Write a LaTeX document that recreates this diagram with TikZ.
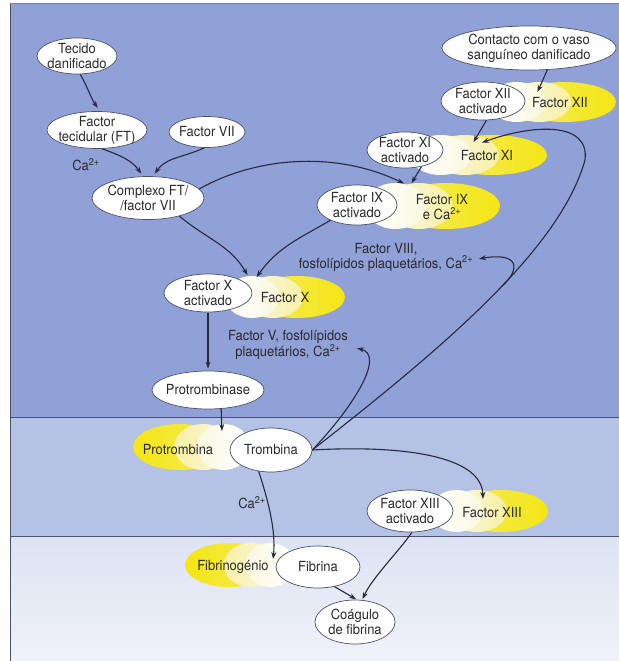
\documentclass[tikz,border=0pt]{standalone}
\usepackage{fontspec}
\setmainfont{TeX Gyre Heros}[FakeStretch=0.93]
\usetikzlibrary{arrows.meta,shapes.geometric}
\definecolor{bgtop}{HTML}{8FA1D7}
\definecolor{bgmid}{HTML}{B4C2E6}
\definecolor{bgbotA}{HTML}{DCE3F3}
\definecolor{bgbotB}{HTML}{F0F2F9}
\definecolor{ystrong}{HTML}{F4E614}
\definecolor{ymid}{HTML}{F5EB60}
\definecolor{ylight}{HTML}{F7F0A6}
\definecolor{ypale}{HTML}{FAF8E0}
\definecolor{linec}{HTML}{262A3C}
\definecolor{rulec}{HTML}{4A5068}
\definecolor{txtc}{HTML}{2A2A2A}

% yellow blob, strong colour on the right: xL, xR, cy, ry
\newcommand{\yblobR}[4]{%
  \pgfmathsetmacro{\bW}{#2-#1}%
  \pgfmathsetmacro{\rC}{0.4*\bW}\pgfmathsetmacro{\rB}{0.25*\bW}\pgfmathsetmacro{\rA}{0.225*\bW}%
  \shade[left color=ymid, right color=ystrong] ({#1+0.6*\bW},#3) ellipse [x radius=\rC bp, y radius=#4bp];
  \shade[left color=ypale, right color=ylight] ({#1+0.4*\bW},#3) ellipse [x radius=\rB bp, y radius=#4bp];
  \shade[left color=white, right color=ypale] ({#1+0.225*\bW},#3) ellipse [x radius=\rA bp, y radius=#4bp];
}
% yellow blob, strong colour on the left
\newcommand{\yblobL}[4]{%
  \pgfmathsetmacro{\bW}{#2-#1}%
  \pgfmathsetmacro{\rC}{0.4*\bW}\pgfmathsetmacro{\rB}{0.25*\bW}\pgfmathsetmacro{\rA}{0.225*\bW}%
  \shade[right color=ymid, left color=ystrong] ({#2-0.6*\bW},#3) ellipse [x radius=\rC bp, y radius=#4bp];
  \shade[right color=ypale, left color=ylight] ({#2-0.4*\bW},#3) ellipse [x radius=\rB bp, y radius=#4bp];
  \shade[right color=white, left color=ypale] ({#2-0.225*\bW},#3) ellipse [x radius=\rA bp, y radius=#4bp];
}

\tikzset{
  ell/.style={ellipse, draw=rulec, line width=0.7bp, fill=white, inner sep=-40bp,
    align=center, text=txtc, font=\fontsize{14}{15}\selectfont},
  lbl/.style={align=center, inner sep=0pt, text=txtc, font=\fontsize{14}{15}\selectfont},
  arr/.style={draw=linec, line width=1.1bp, -{Stealth[length=7bp,width=5bp]}, shorten >=1bp},
}

\begin{document}
\begin{tikzpicture}[x=1bp,y=-1bp]
\useasboundingbox (0,0) rectangle (619,661);
% background
\fill[white] (0,0) rectangle (619,661);
\fill[bgtop] (10,3.5) rectangle (619,417);
\fill[bgmid] (10,417) rectangle (619,536);
\shade[top color=bgbotA, bottom color=bgbotB] (10,536) rectangle (619,661);
\draw[rulec, line width=0.8bp] (10,417) -- (619,417);
\draw[rulec, line width=0.8bp] (10,536) -- (619,536);
\draw[rulec, line width=0.9bp] (10,3.5) -- (10,661);
\draw[rulec!70, line width=0.9bp] (10,3.5) -- (619,3.5);

% yellow blobs
\yblobR{488}{616}{102}{20}
\yblobR{410}{547}{155}{20}
\yblobR{365}{500}{206}{23}
\yblobR{225}{345}{297}{21}
\yblobL{133}{250}{447}{23}
\yblobL{185}{295}{565}{22}
\yblobR{430}{548}{511}{21}

% nodes
\node[ell, minimum width=80bp, minimum height=36bp] (tec) at (77,56) {Tecido\\danificado};
\node[ell, minimum width=100bp, minimum height=37bp] (ft) at (97,130) {Factor\\tecidular (FT)};
\node[ell, minimum width=76bp, minimum height=31bp] (f7) at (207,132) {Factor VII};
\node[lbl] (ca1) at (86,165) {Ca\textsuperscript{2+}};
\node[ell, minimum width=112bp, minimum height=43bp] (cplx) at (148,198) {Complexo FT/\\/factor VII};
\node[ell, minimum width=174bp, minimum height=44bp] (cont) at (529,48) {Contacto com o vaso\\sanguíneo danificado};
\node[ell, minimum width=84bp, minimum height=38bp] (f12a) at (483,101) {Factor XII\\activado};
\node[lbl] (tXII) at (560,103) {Factor XII};
\node[ell, minimum width=76bp, minimum height=36bp] (f11a) at (405,150) {Factor XI\\activado};
\node[lbl] (tXI) at (487,156) {Factor XI};
\node[ell, minimum width=80bp, minimum height=40bp] (f9a) at (357,205) {Factor IX\\activado};
\node[lbl] (tIX) at (442,207) {Factor IX\\e Ca\textsuperscript{2+}};
\node[lbl] (t8) at (386,257) {Factor VIII,\\fosfolípidos plaquetários, Ca\textsuperscript{2+}};
\node[ell, minimum width=88bp, minimum height=38bp] (f10a) at (208,293) {Factor X\\activado};
\node[lbl] (tX) at (285,298) {Factor X};
\node[lbl] (t5) at (288,345) {Factor V, fosfolípidos\\plaquetários, Ca\textsuperscript{2+}};
\node[ell, minimum width=112bp, minimum height=38bp] (prot) at (208,390) {Protrombinase};
\node[lbl] (tProt) at (178,450) {Protrombina};
\node[ell, minimum width=82bp, minimum height=44bp] (trom) at (271,450) {Trombina};
\node[lbl] (ca2) at (252,503) {Ca\textsuperscript{2+}};
\node[lbl] (tFib) at (233,567) {Fibrinogénio};
\node[ell, minimum width=84bp, minimum height=42bp] (fib) at (318,567) {Fibrina};
\node[ell, minimum width=86bp, minimum height=42bp] (f13a) at (410,511) {Factor XIII\\activado};
\node[lbl] (tXIII) at (492,513) {Factor XIII};
\node[ell, minimum width=80bp, minimum height=44bp] (coag) at (355,622) {Coágulo\\de fibrina};

% arrow end points
\coordinate (p12) at (537,93);
\coordinate (p11a) at (473,143);
\coordinate (p11b) at (481,143);
\coordinate (p9a) at (405,184);
\coordinate (p9b) at (411,184);
\coordinate (p10a) at (248,276);
\coordinate (p10b) at (256,278);
\coordinate (p8) at (478,259);
\coordinate (p5) at (356,348);
\coordinate (pPr) at (222,432);
\coordinate (pFg) at (273,560);
\coordinate (p13) at (483,500);

% connectors
\draw[arr, shorten >=4bp] (tec.-80) to[out=-60,in=125] ([xshift=3bp]ft.north);
\draw[arr, shorten >=3bp] (ft.-75) to[out=-20,in=125] ([xshift=-5bp]cplx.north);
\draw[arr, shorten >=3bp] (f7.-100) to[out=-155,in=55] ([xshift=5bp]cplx.north);
\draw[arr] (cplx.10) .. controls (250,160) and (330,148) .. (p9a);
\draw[arr] (cplx.-30) to[out=-40,in=120] (p10a);
\draw[arr] (f9a.-150) to[out=-150,in=55] (p10b);
\draw[arr] (cont.-50) -- (p12);
\draw[arr] (f12a.-80) -- (p11a);
\draw[arr] (f11a.-45) -- (p9b);
\draw[arr] (trom.east) .. controls (440,350) and (560,250) .. coordinate[pos=0.55] (split) (585,160)
  .. controls (590,120) and (530,125) .. (p11b);
\draw[arr] (split) .. controls (522,268) and (518,252) .. (p8);
\draw[arr] (trom.east) .. controls (355,405) and (385,355) .. (p5);
\draw[arr, shorten <=1bp, shorten >=2bp] (f10a.south) -- (prot.north);
\draw[arr] (prot.-55) -- (pPr);
\draw[arr] (trom.-120) .. controls (268,500) and (276,530) .. (pFg);
\draw[arr] (trom.east) .. controls (400,445) and (482,455) .. (p13);
\draw[arr] (f13a.-85) .. controls (400,550) and (372,578) .. (coag.72);
\draw[arr] (fib.-50) -- (coag.85);
\end{tikzpicture}
\end{document}
